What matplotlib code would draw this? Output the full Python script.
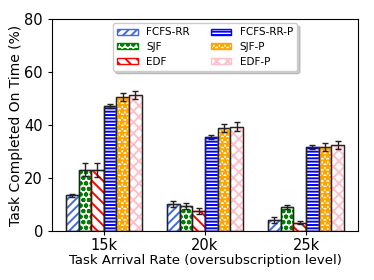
import numpy as np
import matplotlib
matplotlib.use("Agg")
import matplotlib.pyplot as plt

categories = ["15k", "20k", "25k"]
series = ["FCFS-RR", "SJF", "EDF", "FCFS-RR-P", "SJF-P", "EDF-P"]
fcfs_rr = [13.5, 10.2, 4.2]
sjf = [23.2, 9.4, 9.0]
edf = [23.0, 7.6, 3.2]
fcfs_rr_p = [47.3, 35.6, 31.7]
sjf_p = [50.6, 38.8, 31.8]
edf_p = [51.2, 39.4, 32.4]
fcfs_rr_err = [0.6, 1.0, 1.2]
sjf_err = [2.5, 1.2, 0.8]
edf_err = [2.5, 1.2, 0.7]
fcfs_rr_p_err = [0.7, 0.8, 0.8]
sjf_p_err = [1.6, 1.6, 1.5]
edf_p_err = [1.5, 1.7, 1.4]

values = [fcfs_rr, sjf, edf, fcfs_rr_p, sjf_p, edf_p]
errors = [fcfs_rr_err, sjf_err, edf_err, fcfs_rr_p_err, sjf_p_err, edf_p_err]
colors = ["royalblue", "green", "red", "blue", "orange", "pink"]
hatches = ["////", "ooo", "\\\\\\", "-----", "***", "xxx"]

plt.rcParams["hatch.linewidth"] = 1.4
fig = plt.figure(figsize=(3.74, 2.8), dpi=100)
ax = fig.add_axes([0.139, 0.175, 0.818, 0.757])

x = np.arange(len(categories))
w = 0.125
for i, (name, vals, errs, c, h) in enumerate(zip(series, values, errors, colors, hatches)):
    pos = x + (i - 2.5) * w
    ax.bar(pos, vals, w, color="white", edgecolor=c, hatch=h, linewidth=1.0, label=name)
    ax.bar(pos, vals, w, color="none", edgecolor="#222222", linewidth=1.0)
    ax.errorbar(pos, vals, yerr=errs, fmt="none", ecolor="#222222", elinewidth=1.0, capsize=2.5, capthick=1.0)

ax.set_ylim(0, 80)
ax.set_yticks([0, 20, 40, 60, 80])
ax.set_xticks(x)
ax.set_xticklabels(categories)
ax.tick_params(axis="both", labelsize=10.5, length=3)
ax.tick_params(axis="x", pad=2)
ax.set_ylabel("Task Completed On Time (%)", fontsize=10, labelpad=1)
ax.set_xlabel("Task Arrival Rate (oversubscription level)", fontsize=9.5, labelpad=1)
ax.legend(loc="upper center", ncol=2, fontsize=7.5, frameon=True,
          shadow={"color": "0.6", "alpha": 0.5},
          handlelength=2.0, handleheight=0.5, columnspacing=2.0, labelspacing=0.45,
          borderaxespad=0.4)

fig.savefig("out.png", dpi=100)
